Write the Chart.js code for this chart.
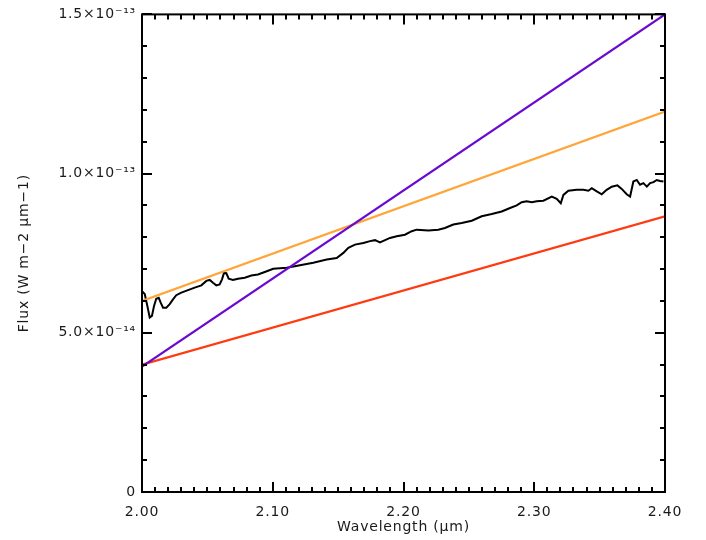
<!DOCTYPE html>
<html><head><meta charset="utf-8">
<script src="https://cdn.jsdelivr.net/npm/chart.js@4.4.1/dist/chart.umd.min.js"></script>
<style>html,body{margin:0;padding:0;background:#fff}</style>
</head><body>
<canvas id="c" width="706" height="540"></canvas>
<script>
// Spectrum (wavelength in micron, flux in units of 1e-14 W m-2 um-1)
const wavelength = [2.000,2.0021,2.0041,2.0059,2.0076,2.0092,2.0109,2.0128,2.0143,2.0161,2.0186,2.0212,2.0237,2.0262,2.0301,2.0352,2.0403,2.0454,2.0492,2.0518,2.0543,2.0568,2.0594,2.0612,2.0627,2.0645,2.0663,2.0696,2.0734,2.0786,2.0836,2.0887,2.0939,2.1004,2.1107,2.1208,2.1310,2.1413,2.1489,2.1540,2.1578,2.1629,2.1693,2.1744,2.1782,2.1820,2.1859,2.1897,2.1948,2.2011,2.2063,2.2101,2.2190,2.2266,2.2317,2.2381,2.2445,2.2522,2.2598,2.2675,2.2751,2.2815,2.2866,2.2904,2.2942,2.2981,2.3019,2.3070,2.3134,2.3172,2.3203,2.3223,2.3261,2.3325,2.3376,2.3414,2.3440,2.3478,2.3516,2.3554,2.3593,2.3636,2.3669,2.3707,2.3733,2.3758,2.3784,2.3809,2.3835,2.3861,2.3886,2.3912,2.3937,2.3962,2.3988];
const fluxE14 = [6.31,6.22,5.84,5.48,5.53,5.84,6.07,6.10,5.95,5.79,5.79,5.90,6.05,6.18,6.26,6.34,6.42,6.49,6.63,6.66,6.57,6.49,6.52,6.68,6.88,6.87,6.70,6.66,6.70,6.73,6.80,6.83,6.91,7.01,7.04,7.12,7.20,7.30,7.35,7.51,7.67,7.77,7.82,7.88,7.91,7.84,7.91,7.98,8.03,8.08,8.19,8.24,8.21,8.24,8.29,8.40,8.45,8.52,8.66,8.73,8.81,8.92,9.00,9.10,9.13,9.10,9.13,9.15,9.28,9.21,9.07,9.33,9.46,9.49,9.49,9.46,9.54,9.44,9.35,9.49,9.59,9.63,9.52,9.35,9.28,9.75,9.80,9.65,9.70,9.59,9.70,9.73,9.80,9.77,9.75];

// Straight model lines (endpoints, flux in 1e-14)
const lineX = [2.00, 2.40];
const orangeE14 = [6.00, 11.95];
const redE14 = [4.00, 8.66];
const purpleE14 = [3.94, 15.0];

// Axis ticks
const xTicks = [2.0, 2.1, 2.2, 2.3, 2.4];
const xTickLabels = ['2.00', '2.10', '2.20', '2.30', '2.40'];
const yTicks = [0, 5e-14, 1e-13, 1.5e-13];
const yTickLabels = ['0', '5.0×10⁻¹⁴', '1.0×10⁻¹³', '1.5×10⁻¹³'];

const E = 1e-14;
const pts = (xs, ys) => xs.map((x, i) => ({x: x, y: ys[i] * E}));

const frame = {
  id: 'frame',
  beforeDraw(chart) { chart.ctx.letterSpacing = '0.8px'; },
  afterDatasetsDraw(chart) {
    const {ctx, chartArea: {left, right, top, bottom}, scales: {x, y}} = chart;
    ctx.save();
    ctx.strokeStyle = '#000';
    ctx.lineWidth = 2;
    ctx.strokeRect(left, top, right - left, bottom - top);
    ctx.beginPath();
    for (let i = 0; i <= 40; i++) {
      const px = Math.round(x.getPixelForValue(2 + i * 0.01));
      const L = (i % 10 === 0) ? 10 : 5;
      ctx.moveTo(px, bottom); ctx.lineTo(px, bottom - L);
      ctx.moveTo(px, top); ctx.lineTo(px, top + L);
    }
    for (let i = 0; i <= 15; i++) {
      const py = Math.round(y.getPixelForValue(i * 1e-14));
      const L = (i % 5 === 0) ? 10 : 5;
      ctx.moveTo(left, py); ctx.lineTo(left + L, py);
      ctx.moveTo(right, py); ctx.lineTo(right - L, py);
    }
    ctx.stroke();
    ctx.restore();
  }
};

const font = {family: 'DejaVu Sans', size: 14};
const txt = '#1a1a1a';

new Chart(document.getElementById('c'), {
  type: 'line',
  data: {
    datasets: [
      {data: pts(lineX, purpleE14), borderColor: '#6a0ad0', borderWidth: 2.2, pointRadius: 0, order: 0},
      {data: pts(lineX, redE14), borderColor: '#ff3a10', borderWidth: 2.2, pointRadius: 0, order: 1},
      {data: pts(lineX, orangeE14), borderColor: '#ffa53a', borderWidth: 2.2, pointRadius: 0, order: 2},
      {data: pts(wavelength, fluxE14), borderColor: '#000', borderWidth: 2, pointRadius: 0, order: 3, tension: 0}
    ]
  },
  options: {
    responsive: false,
    animation: false,
    devicePixelRatio: 1,
    layout: {padding: {left: 0, right: 41, top: 12, bottom: 0}},
    plugins: {legend: {display: false}, tooltip: {enabled: false}},
    scales: {
      x: {
        type: 'linear', min: 2.0, max: 2.4,
        grid: {display: false, drawTicks: false}, border: {display: false},
        afterBuildTicks: s => { s.ticks = xTicks.map(v => ({value: v})); },
        afterFit: s => { s.height = 48; },
        ticks: {font: font, color: txt, padding: 12, maxRotation: 0,
          callback: (v, i) => xTickLabels[i]},
        title: {display: true, text: 'Wavelength (μm)', font: font, color: txt, padding: {top: 0, bottom: 4}}
      },
      y: {
        type: 'linear', min: 0, max: 1.5e-13,
        grid: {display: false, drawTicks: false}, border: {display: false},
        afterBuildTicks: s => { s.ticks = yTicks.map(v => ({value: v})); },
        afterFit: s => { s.width = 142; },
        ticks: {font: font, color: txt, padding: 6,
          callback: (v, i) => yTickLabels[i]},
        title: {display: true, text: 'Flux (W m−2 μm−1)', font: font, color: txt, padding: {top: 16, bottom: 0}}
      }
    }
  },
  plugins: [frame]
});
</script>
</body></html>
